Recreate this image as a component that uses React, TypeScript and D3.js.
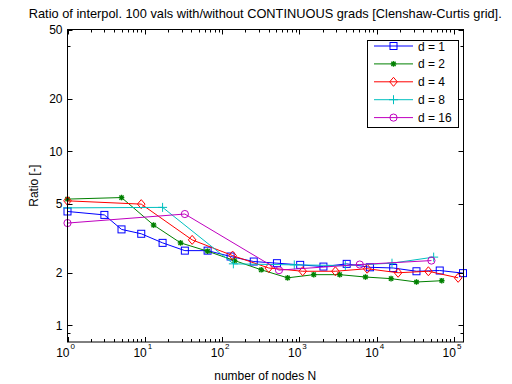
import React from "react";
import * as d3 from "d3";

const TITLE = "Ratio of interpol. 100 vals with/without CONTINUOUS grads [Clenshaw-Curtis grid].";
const X_LABEL = "number of nodes N";
const Y_LABEL = "Ratio [-]";

const N1 = [1, 3, 5, 9, 17, 33, 65, 129, 257, 513, 1025, 2049, 4097, 8193, 16385, 32769, 65537, 131073];
const R1 = [4.5, 4.3, 3.55, 3.35, 2.97, 2.68, 2.68, 2.48, 2.32, 2.27, 2.22, 2.17, 2.25, 2.15, 2.13, 2.04, 2.06, 1.99];

const N2 = [1, 5, 13, 29, 65, 145, 321, 705, 1537, 3329, 7169, 15361, 32769, 69633];
const R2 = [5.3, 5.41, 3.76, 2.97, 2.66, 2.35, 2.08, 1.87, 1.95, 1.95, 1.89, 1.85, 1.77, 1.8];

const N4 = [1, 9, 41, 137, 401, 1105, 2929, 7537, 18945, 46721, 113409];
const R4 = [5.18, 4.96, 3.09, 2.51, 2.13, 2.04, 2.04, 2.11, 2.0, 2.04, 1.87];

const N8 = [1, 17, 140, 860, 3935, 15800, 54700];
const R8 = [4.72, 4.75, 2.25, 2.22, 2.2, 2.27, 2.46];

const N16 = [1, 33, 545, 6049, 51137];
const R16 = [3.86, 4.35, 2.07, 2.23, 2.35];

const SERIES_LABELS = ["d = 1", "d = 2", "d = 4", "d = 8", "d = 16"];
const SERIES_COLORS = ["#0000ff", "#008000", "#ff0000", "#00bfbf", "#bf00bf"];
const SERIES_MARKERS = ["square", "star", "diamond", "plus", "circle"];

const X_DOMAIN = [1, 131073];
const Y_DOMAIN = [0.8, 50];
const X_TICK_EXP = [0, 1, 2, 3, 4, 5];
const Y_TICKS = [1, 2, 5, 10, 20, 50];
const Y_MINOR = [0.9, 40];

const FONT = "'Liberation Sans', Arial, Helvetica, sans-serif";

function Marker({ type, x, y, color }: { type: string; x: number; y: number; color: string }) {
  if (type === "square") return <rect x={x - 3.5} y={y - 3.5} width={7} height={7} fill="none" stroke={color} strokeWidth={1} />;
  if (type === "circle") return <circle cx={x} cy={y} r={3.6} fill="none" stroke={color} strokeWidth={1} />;
  if (type === "diamond")
    return <polygon points={`${x},${y - 4.5} ${x + 3.8},${y} ${x},${y + 4.5} ${x - 3.8},${y}`} fill="none" stroke={color} strokeWidth={1} />;
  if (type === "plus")
    return (
      <g stroke={color} strokeWidth={1}>
        <line x1={x - 4.5} y1={y} x2={x + 4.5} y2={y} />
        <line x1={x} y1={y - 4.5} x2={x} y2={y + 4.5} />
      </g>
    );
  const r = 2.8;
  const d = r * 0.75;
  return (
    <g stroke={color} strokeWidth={1.4}>
      <line x1={x - r} y1={y} x2={x + r} y2={y} />
      <line x1={x} y1={y - r} x2={x} y2={y + r} />
      <line x1={x - d} y1={y - d} x2={x + d} y2={y + d} />
      <line x1={x - d} y1={y + d} x2={x + d} y2={y - d} />
    </g>
  );
}

export default function App() {
  const W = 512, H = 384;
  const L = 67.5, R = 463, T = 29.5, B = 342;
  const x = d3.scaleLog().domain(X_DOMAIN).range([L, R]);
  const y = d3.scaleLog().domain(Y_DOMAIN).range([B, T]);

  const series = [
    [N1, R1],
    [N2, R2],
    [N4, R4],
    [N8, R8],
    [N16, R16],
  ];
  const line = d3.line<[number, number]>().x((d) => x(d[0])).y((d) => y(d[1]));

  const xMinor: number[] = [];
  for (let e = 0; e <= 5; e++) for (let m = 2; m <= 9; m++) {
    const v = m * Math.pow(10, e);
    if (v < X_DOMAIN[1]) xMinor.push(v);
  }

  const legX = 367.5, legY = 40.5, legW = 91, legH = 87;
  const rowH = 17.9;

  return (
    <svg width={W} height={H} style={{ position: "absolute", left: 0, top: 0 }} fontFamily={FONT}>
      <rect x={0} y={0} width={W} height={H} fill="#fff" />
      <rect x={L} y={T} width={R - L} height={B - T} fill="#fff" />
      {series.map(([ns, rs], i) => {
        const pts = ns.map((n, k) => [n, rs[k]] as [number, number]);
        return (
          <g key={i}>
            <path d={line(pts) || ""} fill="none" stroke={SERIES_COLORS[i]} strokeWidth={1} />
            {pts.map((p, k) => (
              <Marker key={k} type={SERIES_MARKERS[i]} x={x(p[0])} y={y(p[1])} color={SERIES_COLORS[i]} />
            ))}
          </g>
        );
      })}
      <rect x={L} y={T} width={R - L + 0.5} height={B - T} fill="none" stroke="#000" strokeWidth={1} />
      <g stroke="#000" strokeWidth={1}>
        {X_TICK_EXP.map((e) => {
          const px = Math.round(x(Math.pow(10, e))) + 0.5;
          return (
            <g key={e}>
              <line x1={px} y1={B} x2={px} y2={B - 5} />
              <line x1={px} y1={T} x2={px} y2={T + 5} />
            </g>
          );
        })}
        {xMinor.map((v, i) => {
          const px = Math.round(x(v)) + 0.5;
          return (
            <g key={i}>
              <line x1={px} y1={B} x2={px} y2={B - 3} />
              <line x1={px} y1={T} x2={px} y2={T + 3} />
            </g>
          );
        })}
        {Y_TICKS.map((v) => {
          const py = Math.round(y(v)) + 0.5;
          return (
            <g key={v}>
              <line x1={L} y1={py} x2={L + 5} y2={py} />
              <line x1={R + 0.5} y1={py} x2={R - 4.5} y2={py} />
            </g>
          );
        })}
        {Y_MINOR.map((v) => {
          const py = Math.round(y(v)) + 0.5;
          return (
            <g key={v}>
              <line x1={L} y1={py} x2={L + 3} y2={py} />
              <line x1={R + 0.5} y1={py} x2={R - 2.5} y2={py} />
            </g>
          );
        })}
      </g>
      {X_TICK_EXP.map((e) => {
        const px = x(Math.pow(10, e));
        return (
          <g key={e}>
            <text x={px + 2} y={357} fontSize={12} textAnchor="end" fill="#000">10</text>
            <text x={px + 3} y={349} fontSize={8} textAnchor="start" fill="#000">{e}</text>
          </g>
        );
      })}
      {Y_TICKS.map((v) => (
        <text key={v} x={L - 5} y={y(v) + 4.5} fontSize={12} textAnchor="end" fill="#000">{v}</text>
      ))}
      <text x={(L + R) / 2} y={380} fontSize={12} textAnchor="middle" fill="#000">{X_LABEL}</text>
      <text transform={`translate(38,${(T + B) / 2}) rotate(-90)`} fontSize={12} textAnchor="middle" fill="#000">{Y_LABEL}</text>
      <text x={(L + R) / 2} y={18} fontSize={12.8} textAnchor="middle" fill="#000">{TITLE}</text>
      <rect x={legX} y={legY} width={legW} height={legH} fill="#fff" stroke="#000" strokeWidth={1} />
      {SERIES_LABELS.map((lab, i) => {
        const cy = legY + 5.5 + rowH * i;
        return (
          <g key={i}>
            <line x1={374} y1={cy} x2={413} y2={cy} stroke={SERIES_COLORS[i]} strokeWidth={1} />
            <Marker type={SERIES_MARKERS[i]} x={393.5} y={cy} color={SERIES_COLORS[i]} />
            <text x={418} y={cy + 4.5} fontSize={12} fill="#000">{lab}</text>
          </g>
        );
      })}
    </svg>
  );
}
